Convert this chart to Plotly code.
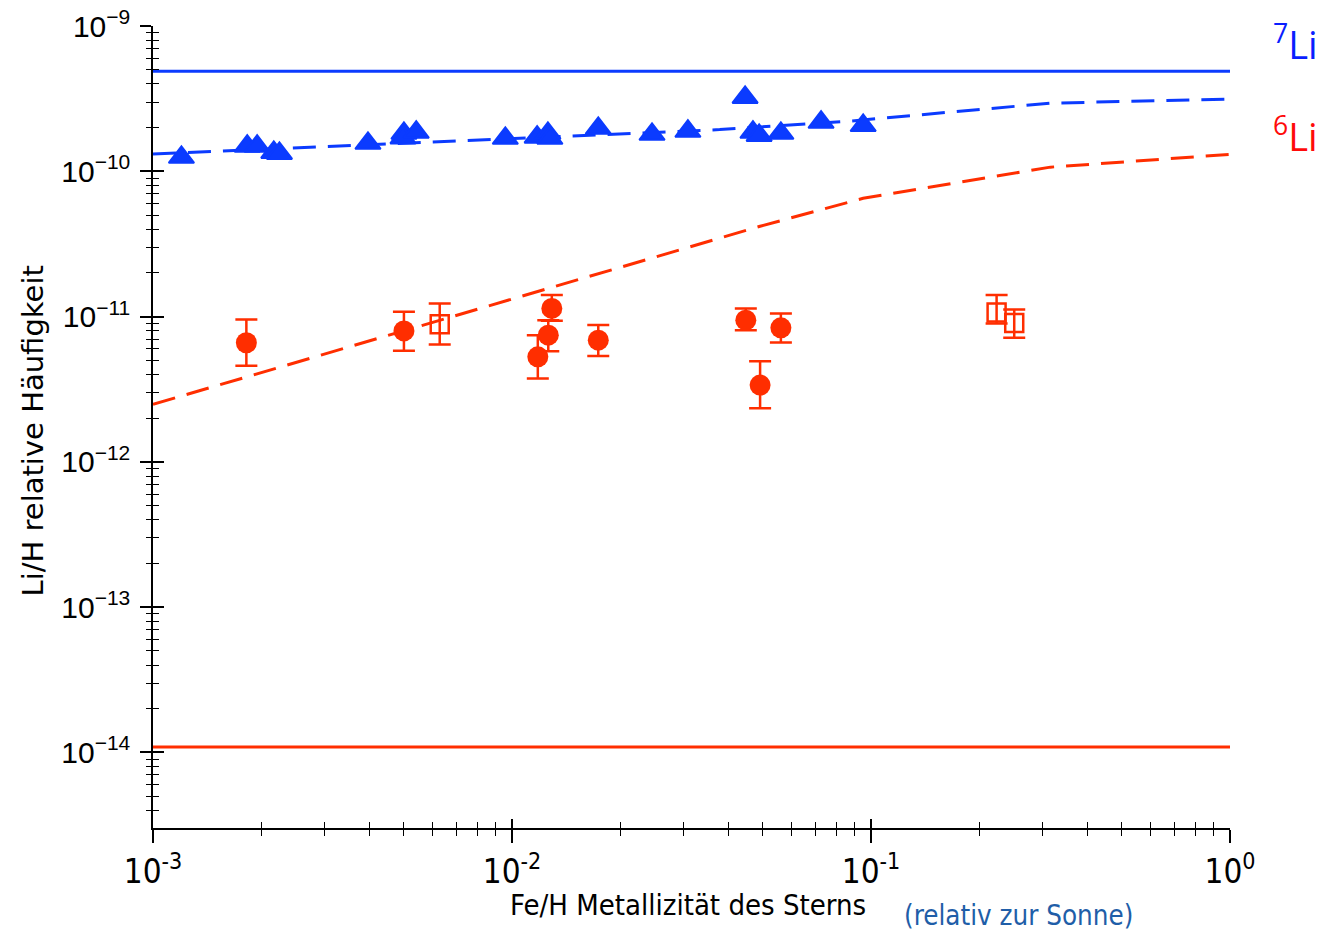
import plotly.graph_objects as go

# --- Lithium abundance versus stellar metallicity ---------------------------

# 7Li measurements (filled triangles): Fe/H relative to the Sun, Li/H
li7_feh = [0.00120, 0.00183, 0.00195, 0.00217, 0.00225, 0.00397, 0.00500,
           0.00497, 0.00541, 0.00958, 0.01175, 0.01259, 0.01275, 0.01739,
           0.02455, 0.0309, 0.0446, 0.0469, 0.0488, 0.0561, 0.0726, 0.0951]
li7_abund = [1.25e-10, 1.49e-10, 1.49e-10, 1.35e-10, 1.33e-10, 1.56e-10,
             1.83e-10, 1.70e-10, 1.86e-10, 1.69e-10, 1.72e-10, 1.83e-10,
             1.69e-10, 1.98e-10, 1.80e-10, 1.89e-10, 3.23e-10, 1.86e-10,
             1.77e-10, 1.83e-10, 2.18e-10, 2.07e-10]

# 6Li detections (filled circles) with upper / lower error-bar ends
li6_feh = [0.00182, 0.00500, 0.01291, 0.01262, 0.01180, 0.01739,
           0.0448, 0.0561, 0.0491]
li6_abund = [6.61e-12, 7.98e-12, 1.14e-11, 7.46e-12, 5.29e-12, 6.89e-12,
             9.46e-12, 8.38e-12, 3.38e-12]
li6_hi = [9.57e-12, 1.08e-11, 1.41e-11, 9.46e-12, 7.46e-12, 8.75e-12,
          1.14e-11, 1.05e-11, 4.94e-12]
li6_lo = [4.59e-12, 5.82e-12, 9.36e-12, 5.79e-12, 3.76e-12, 5.37e-12,
          8.07e-12, 6.65e-12, 2.34e-12]

# 6Li values from a second sample (open squares)
li6b_feh = [0.00629, 0.2238, 0.2506]
li6b_abund = [8.88e-12, 1.07e-11, 9.06e-12]
li6b_hi = [1.23e-11, 1.41e-11, 1.12e-11]
li6b_lo = [6.44e-12, 8.98e-12, 7.15e-12]

# Model evolution curves (dashed)
li7_model_feh = [0.001, 0.0379, 0.0874, 0.316, 1.0]
li7_model = [1.32e-10, 1.94e-10, 2.22e-10, 2.95e-10, 3.15e-10]
li6_model_feh = [0.001, 0.0491, 0.0951, 0.316, 1.0]
li6_model = [2.49e-12, 4.19e-11, 6.53e-11, 1.07e-10, 1.31e-10]

# Primordial (Big Bang) values (solid horizontal lines)
feh_span = [0.001, 1.0]
li7_bbn = 4.9e-10
li6_bbn = 1.09e-14

# Axis ticks
x_major = [1e-3, 1e-2, 1e-1, 1]
x_major_text = ["10<sup>-3</sup>", "10<sup>-2</sup>", "10<sup>-1</sup>", "10<sup>0</sup>"]
x_minor = [m * 10.0 ** e for e in range(-3, 0) for m in range(2, 10)]
y_exponents = [-14, -13, -12, -11, -10, -9]
y_major = [10.0 ** e for e in y_exponents]
y_major_text = ["10<sup>\u2212%d</sup>" % (-e) for e in y_exponents]
y_minor = [m * 10.0 ** e for e in range(-15, -9) for m in range(2, 10)]

BLUE = "#0b3bff"
RED = "#ff2e00"

fig = go.Figure()

# The two primordial lines sit on the overlay axes (same ranges), which makes
# those axes draw their inward tick marks.
fig.add_trace(go.Scatter(x=feh_span, y=[li7_bbn, li7_bbn], mode="lines",
                         xaxis="x2", yaxis="y",
                         line=dict(color=BLUE, width=3)))
fig.add_trace(go.Scatter(x=feh_span, y=[li6_bbn, li6_bbn], mode="lines",
                         xaxis="x", yaxis="y2",
                         line=dict(color=RED, width=3)))
fig.add_trace(go.Scatter(x=li7_model_feh, y=li7_model, mode="lines",
                         line=dict(color=BLUE, width=3, dash="23px,12px")))
fig.add_trace(go.Scatter(x=li6_model_feh, y=li6_model, mode="lines",
                         line=dict(color=RED, width=3, dash="23px,12px")))

fig.add_trace(go.Scatter(
    x=li7_feh, y=li7_abund, mode="markers",
    marker=dict(symbol="triangle-up", size=22, color=BLUE,
                line=dict(color=BLUE, width=2))))

fig.add_trace(go.Scatter(
    x=li6_feh, y=li6_abund, mode="markers",
    marker=dict(symbol="circle", size=21, color=RED),
    error_y=dict(type="data", symmetric=False,
                 array=[h - v for h, v in zip(li6_hi, li6_abund)],
                 arrayminus=[v - l for v, l in zip(li6_abund, li6_lo)],
                 color=RED, thickness=2.5, width=11)))

fig.add_trace(go.Scatter(
    x=li6b_feh, y=li6b_abund, mode="markers",
    marker=dict(symbol="square-open", size=18, color=RED,
                line=dict(color=RED, width=2.5)),
    error_y=dict(type="data", symmetric=False,
                 array=[h - v for h, v in zip(li6b_hi, li6b_abund)],
                 arrayminus=[v - l for v, l in zip(li6b_abund, li6b_lo)],
                 color=RED, thickness=2.5, width=11)))

x_range = [-3, 0]
y_range = [-14.52, -8.999]

tick_font_y = dict(family="Liberation Sans, Arial, sans-serif", size=30, color="black")
tick_font_x = dict(family="DejaVu Sans Condensed, Liberation Sans Narrow, sans-serif",
                   size=33, color="black")

fig.update_layout(
    width=1324, height=931,
    margin=dict(l=153, r=94, t=26, b=103, autoexpand=False),
    paper_bgcolor="white", plot_bgcolor="white",
    showlegend=False,
    xaxis=dict(type="log", range=x_range, showgrid=False, zeroline=False,
               automargin=False,
               showline=True, linecolor="black", linewidth=1.5,
               ticks="outside", ticklen=13, tickwidth=1.5, tickcolor="black",
               tickmode="array", tickvals=x_major, ticktext=x_major_text,
               tickfont=tick_font_x, ticklabelstandoff=1,
               minor=dict(ticks="outside", ticklen=6, tickwidth=1.3,
                          tickcolor="black", tickmode="array", tickvals=x_minor,
                          showgrid=False)),
    xaxis2=dict(type="log", range=x_range, overlaying="x", anchor="y",
                side="bottom", showgrid=False, zeroline=False, showline=False,
                automargin=False,
                ticks="inside", ticklen=9, tickwidth=1.5, tickcolor="black",
                tickmode="array", tickvals=x_major, showticklabels=False,
                minor=dict(ticks="inside", ticklen=6, tickwidth=1.3,
                           tickcolor="black", tickmode="array", tickvals=x_minor,
                           showgrid=False)),
    yaxis=dict(type="log", range=y_range, showgrid=False, zeroline=False,
               automargin=False,
               showline=True, linecolor="black", linewidth=1.5,
               ticks="outside", ticklen=11, tickwidth=1.5, tickcolor="black",
               tickmode="array", tickvals=y_major, ticktext=y_major_text,
               tickfont=tick_font_y, ticklabelstandoff=4,
               minor=dict(ticks="outside", ticklen=5.5, tickwidth=1.3,
                          tickcolor="black", tickmode="array", tickvals=y_minor,
                          showgrid=False)),
    yaxis2=dict(type="log", range=y_range, overlaying="y", anchor="x",
                side="left", showgrid=False, zeroline=False, showline=False,
                automargin=False,
                ticks="inside", ticklen=11, tickwidth=1.5, tickcolor="black",
                tickmode="array", tickvals=y_major, showticklabels=False,
                minor=dict(ticks="inside", ticklen=5.5, tickwidth=1.3,
                           tickcolor="black", tickmode="array", tickvals=y_minor,
                           showgrid=False)),
)

annotations = [
    dict(text="Li/H relative Häufigkeit", textangle=-90,
         xref="paper", yref="paper", x=-0.111, y=0.495,
         xanchor="center", yanchor="middle", showarrow=False,
         font=dict(family="DejaVu Sans, sans-serif", size=29, color="black")),
    dict(text="Fe/H Metallizität des Sterns",
         xref="paper", yref="paper", x=0.497, y=-0.096,
         xanchor="center", yanchor="middle", showarrow=False,
         font=dict(family="DejaVu Sans Condensed, Liberation Sans Narrow, sans-serif",
                   size=29, color="black")),
    dict(text="(relativ zur Sonne)",
         xref="paper", yref="paper", x=0.804, y=-0.108,
         xanchor="center", yanchor="middle", showarrow=False,
         font=dict(family="DejaVu Sans Condensed, Liberation Sans Narrow, sans-serif",
                   size=27.5, color="#1f5ea8")),
    dict(text="<sup>7</sup>Li",
         xref="paper", yref="paper", x=1.038, y=0.979,
         xanchor="left", yanchor="middle", showarrow=False,
         font=dict(family="Open Sans, sans-serif", size=38, color="#0a1eff")),
    dict(text="<sup>6</sup>Li",
         xref="paper", yref="paper", x=1.038, y=0.865,
         xanchor="left", yanchor="middle", showarrow=False,
         font=dict(family="Open Sans, sans-serif", size=38, color="#ff0a0a")),
]
fig.update_layout(annotations=annotations)

fig.write_html("out.html")
